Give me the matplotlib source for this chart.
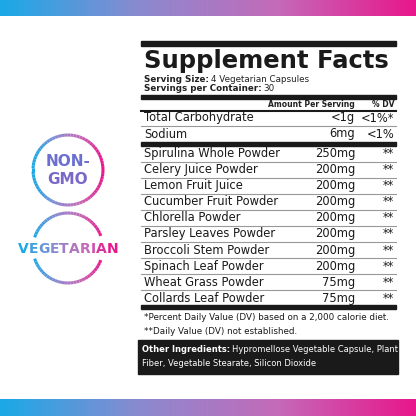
import numpy as np
import matplotlib.pyplot as plt
from matplotlib.colors import LinearSegmentedColormap
from matplotlib.patches import Rectangle

nutrients = ['Total Carbohydrate', 'Sodium']
nutrient_amounts = ['<1g', '6mg']
nutrient_dv = ['<1%*', '<1%']

ingredients = ['Spirulina Whole Powder', 'Celery Juice Powder', 'Lemon Fruit Juice',
               'Cucumber Fruit Powder', 'Chlorella Powder', 'Parsley Leaves Powder',
               'Broccoli Stem Powder', 'Spinach Leaf Powder', 'Wheat Grass Powder',
               'Collards Leaf Powder']
ingredient_amounts = ['250mg', '200mg', '200mg', '200mg', '200mg', '200mg',
                      '200mg', '200mg', '75mg', '75mg']
ingredient_dv = ['**'] * 10

cmap = LinearSegmentedColormap.from_list('grad', ['#1aa9e6', '#8a8ad0', '#c46ab8', '#e8178c'])
COND = ['DejaVu Sans']
HEAD = ['DejaVu Sans']

fig = plt.figure(figsize=(4.16, 4.16), dpi=100)
ax = fig.add_axes([0, 0, 1, 1])
ax.set_xlim(0, 416)
ax.set_ylim(416, 0)
ax.axis('off')
renderer = fig.canvas.get_renderer()

grad = np.linspace(0, 1, 256).reshape(1, -1)
ax.imshow(grad, cmap=cmap, extent=[0, 416, 16, 0], aspect='auto')
ax.imshow(grad, cmap=cmap, extent=[0, 416, 416, 399], aspect='auto')

# badges
for cy in [170, 248]:
    n = 72
    th = np.linspace(0, 2 * np.pi, n)
    for i in range(n - 1):
        xs = 68 + 35 * np.cos(th[i:i + 2])
        ys = cy + 35 * np.sin(th[i:i + 2])
        if cy == 248 and abs(ys.mean() - cy) < 12:
            continue
        ax.plot(xs, ys, color=cmap((xs.mean() - 33) / 70), lw=2.2, solid_capstyle='butt')
ax.text(68, 161, 'NON-', color='#6a6fd0', fontsize=11, fontweight='bold', ha='center', va='center', family=HEAD)
ax.text(68, 180, 'GMO', color='#7a68c8', fontsize=11, fontweight='bold', ha='center', va='center', family=HEAD)

# gradient word, letters placed by measured width
word = 'VEGETARIAN'
widths = []
for ch in word:
    t = ax.text(0, 0, ch, fontsize=10, fontweight='bold', family=HEAD)
    widths.append(t.get_window_extent(renderer).width)
    t.remove()
x = 68 - sum(widths) / 2
for i, ch in enumerate(word):
    ax.text(x, 249, ch, color=cmap(i / 9), fontsize=10, fontweight='bold',
            ha='left', va='center', family=HEAD)
    x += widths[i]

L, R = 141, 396

def label_pair(x, y, bold, rest, size, color, family):
    t = ax.text(x, y, bold, fontsize=size, fontweight='bold', va='center', color=color, family=family)
    w = t.get_window_extent(renderer).width
    ax.text(x + w + 2, y, rest, fontsize=size, va='center', color=color, family=family)

ax.add_patch(Rectangle((L, 41), R - L, 5, color='#1a1a1a'))
ax.text(L + 3, 61, 'Supplement Facts', fontsize=17.5, fontweight='black', va='center', color='#1a1a1a', family=HEAD)
label_pair(L + 3, 79, 'Serving Size:', '4 Vegetarian Capsules', 6.3, '#222', HEAD)
label_pair(L + 3, 88.5, 'Servings per Container:', '30', 6.3, '#222', HEAD)
ax.add_patch(Rectangle((L, 95), R - L, 4, color='#1a1a1a'))
ax.text(355, 104.5, 'Amount Per Serving', fontsize=5.5, fontweight='bold', ha='right', va='center', color='#222', family=HEAD)
ax.text(R - 2, 104.5, '% DV', fontsize=5.5, fontweight='bold', ha='right', va='center', color='#222', family=HEAD)
ax.plot([L, R], [110.5, 110.5], color='#1a1a1a', lw=1.5)

def row(y, name, amt, dv):
    ax.text(L + 3, y, name, fontsize=8.3, va='center', color='#1a1a1a', family=COND)
    ax.text(355, y, amt, fontsize=8.3, va='center', ha='right', color='#1a1a1a', family=COND)
    ax.text(R - 2, y, dv, fontsize=8.3, va='center', ha='right', color='#1a1a1a', family=COND)

y = 118
for i, (n_, a, d) in enumerate(zip(nutrients, nutrient_amounts, nutrient_dv)):
    row(y, n_, a, d)
    if i == 0:
        ax.plot([L, R], [y + 8, y + 8], color='#999', lw=0.8)
    y += 16
ax.add_patch(Rectangle((L, 141.5), R - L, 4, color='#1a1a1a'))
y = 153.5
for i, (n_, a, d) in enumerate(zip(ingredients, ingredient_amounts, ingredient_dv)):
    row(y, n_, a, d)
    if i < len(ingredients) - 1:
        ax.plot([L, R], [y + 8, y + 8], color='#999', lw=0.8)
    y += 16.1
ax.add_patch(Rectangle((L, 305), R - L, 4, color='#1a1a1a'))
ax.text(L + 3, 318, '*Percent Daily Value (DV) based on a 2,000 calorie diet.', fontsize=6.3, va='center', color='#1a1a1a', family=COND)
ax.text(L + 3, 331, '**Daily Value (DV) not established.', fontsize=6.3, va='center', color='#1a1a1a', family=COND)
ax.add_patch(Rectangle((138, 340), 260, 34, color='#1a1a1a'))
label_pair(L + 1, 349, 'Other Ingredients:', 'Hypromellose Vegetable Capsule, Plant', 6.0, 'white', COND)
ax.text(L + 1, 364, 'Fiber, Vegetable Stearate, Silicon Dioxide', fontsize=6.0, va='center', color='white', family=COND)

fig.savefig('out.png', dpi=100)
